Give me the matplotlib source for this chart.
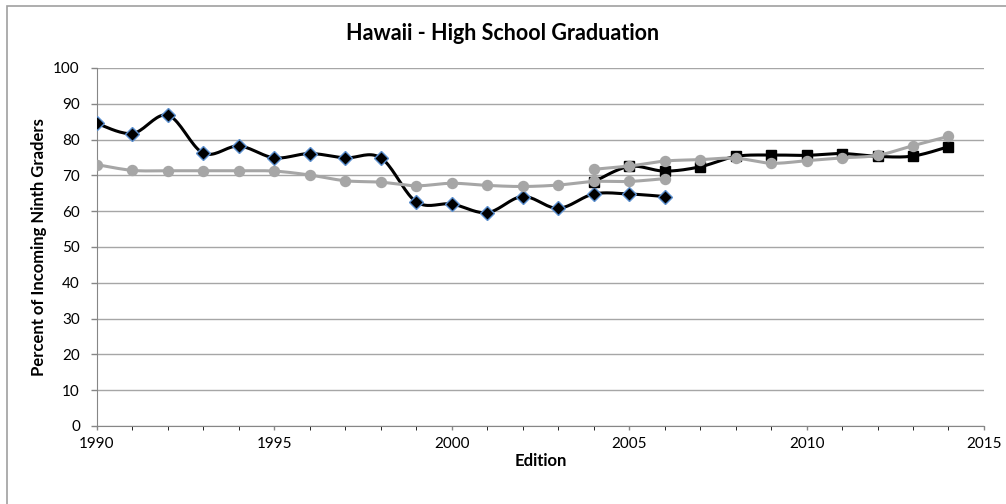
import numpy as np
import matplotlib
matplotlib.use("Agg")
import matplotlib.pyplot as plt

# old series (1990-2006)
years_old = list(range(1990, 2007))
diamond_vals = [84.5, 81.7, 86.8, 76.2, 78.2, 74.9, 76.1, 74.9, 74.9, 62.6,
                62.0, 59.6, 64.1, 60.8, 64.8, 64.8, 64.1]
gray_old_vals = [73.0, 71.4, 71.3, 71.3, 71.3, 71.2, 70.1, 68.5, 68.1, 67.1,
                 67.8, 67.2, 66.9, 67.3, 68.3, 68.3, 69.1]

# new series (2004-2014)
years_new = list(range(2004, 2015))
square_vals = [68.2, 72.5, 71.2, 72.4, 75.3, 75.7, 75.6, 76.1, 75.3, 75.4, 78.0]
gray_new_vals = [71.7, 72.6, 74.0, 74.4, 74.8, 73.4, 74.1, 74.9, 75.6, 78.3, 80.9]

xticks = [1990, 1995, 2000, 2005, 2010, 2015]
yticks = list(range(0, 101, 10))

GRAY = "#A6A6A6"
AXIS = "#868686"


def smooth(x, y, n=20):
    # catmull-rom style curve, like excel's smoothed line
    x = np.asarray(x, float)
    y = np.asarray(y, float)
    px = np.concatenate([[x[0]], x, [x[-1]]])
    py = np.concatenate([[y[0]], y, [y[-1]]])
    xs, ys = [], []
    t = np.linspace(0, 1, n)
    for i in range(1, len(px) - 2):
        p0, p1, p2, p3 = (np.array([px[j], py[j]]) for j in range(i - 1, i + 3))
        c1 = p1 + (p2 - p0) / 6
        c2 = p2 - (p3 - p1) / 6
        b = ((1 - t) ** 3)[:, None] * p1 + (3 * (1 - t) ** 2 * t)[:, None] * c1 \
            + (3 * (1 - t) * t ** 2)[:, None] * c2 + (t ** 3)[:, None] * p2
        xs.extend(b[:, 0])
        ys.extend(b[:, 1])
    return xs, ys


plt.rcParams['font.family'] = ['Lato', 'DejaVu Sans']

fig = plt.figure(figsize=(10.06, 5.04), dpi=100)
ax = fig.add_axes([0.0964, 0.1548, 0.8817, 0.7103])

# diamonds
sx, sy = smooth(years_old, diamond_vals)
ax.plot(sx, sy, color="black", lw=2.2, zorder=3)
ax.plot(years_old, diamond_vals, ls="none", marker="D", ms=7.6, mfc="black",
        mec="#5B8FCF", mew=1.0, zorder=4)

# squares
sx, sy = smooth(years_new, square_vals)
ax.plot(sx, sy, color="black", lw=2.2, zorder=3)
ax.plot(years_new, square_vals, ls="none", marker="s", ms=7.0, mfc="black",
        mec="black", zorder=4)

# gray old
sx, sy = smooth(years_old, gray_old_vals)
ax.plot(sx, sy, color=GRAY, lw=2.2, zorder=5)
ax.plot(years_old, gray_old_vals, ls="none", marker="o", ms=7.2, mfc=GRAY,
        mec=GRAY, zorder=6)

# gray new
sx, sy = smooth(years_new, gray_new_vals)
ax.plot(sx, sy, color=GRAY, lw=2.2, zorder=5)
ax.plot(years_new, gray_new_vals, ls="none", marker="o", ms=7.2, mfc=GRAY,
        mec=GRAY, zorder=6)

ax.set_xlim(1990, 2015)
ax.set_ylim(0, 100)
ax.set_xticks(xticks)
ax.set_xticks(range(1990, 2016), minor=True)
ax.set_yticks(yticks)
ax.tick_params(axis="both", labelsize=11, color=AXIS, width=1)
ax.tick_params(axis="y", length=4.3, pad=8)
ax.tick_params(axis="x", which="both", length=3, pad=5)
ax.grid(axis="y", color="#A6A6A6", lw=1, zorder=0)
ax.set_axisbelow(True)
for s in ["top", "right"]:
    ax.spines[s].set_visible(False)
for s in ["left", "bottom"]:
    ax.spines[s].set_color(AXIS)

ax.set_xlabel("Edition", fontsize=12, fontweight="bold")
ax.xaxis.set_label_coords(0.5, -0.098)
ax.xaxis.label.set_va("center")
ax.set_ylabel("Percent of Incoming Ninth Graders", fontsize=12,
              fontweight="bold")
ax.yaxis.set_label_coords(-0.065, 0.5)
ax.yaxis.label.set_va("center")
fig.text(0.5, 0.934, "Hawaii - High School Graduation", ha="center",
         va="center", fontsize=15.5, fontweight="bold")

# chart border (left and top edges visible)
fig.patches.append(plt.Rectangle((7 / 1006, -0.1), 1.2, 1.1 - 6 / 504 + 0.0,
                                 transform=fig.transFigure, fill=False,
                                 ec="#A0A0A0", lw=1.2))

fig.savefig("out.png", dpi=100)
